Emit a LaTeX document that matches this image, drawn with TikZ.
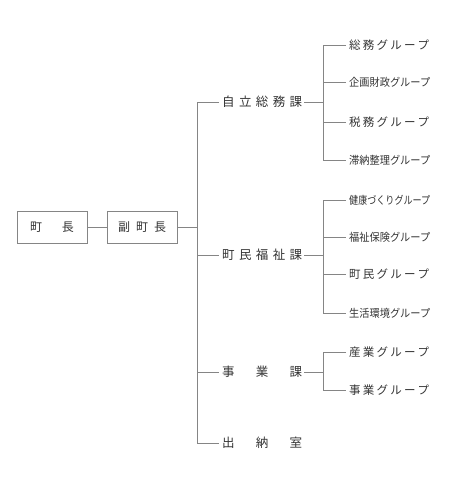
\documentclass[tikz,border=0pt]{standalone}
\usepackage{fontspec}
\usepackage{graphicx}
\setmainfont{Noto Sans CJK JP}
\ExplSyntaxOn
\bool_new:N \l_spread_bool
\NewDocumentCommand\spread{mm}{\hbox~to~#1{\bool_set_false:N \l_spread_bool \tl_map_inline:nn {#2}{\bool_if:NT \l_spread_bool {\hfill} \bool_set_true:N \l_spread_bool ##1}}}
\ExplSyntaxOff
\newcommand\squeezeto[2]{\resizebox{#1}{\height}{#2}}
\definecolor{ln}{HTML}{858585}
\definecolor{tx}{HTML}{333333}
\tikzset{
  ln/.style={draw=ln, line width=0.8pt},
  boxn/.style={draw=ln, line width=0.8pt, minimum width=70pt, minimum height=32pt, inner sep=0pt, text=tx, font=\fontsize{12}{12}\selectfont},
  dept/.style={anchor=west, inner sep=0pt, text=tx, font=\fontsize{12.5}{12.5}\selectfont},
  grp/.style={anchor=west, inner sep=0pt, text=tx, font=\fontsize{11.5}{11.5}\selectfont},
  grps/.style={anchor=west, inner sep=0pt, text=tx, font=\fontsize{11}{11}\selectfont},
}
\begin{document}
\begin{tikzpicture}[x=1pt,y=-1pt]
\useasboundingbox (0,0) rectangle (450,490);
\node[boxn] (cho) at (52,227) {\spread{44pt}{町長}};
\node[boxn] (fuku) at (142,227) {\spread{48pt}{副町長}};
\draw[ln] (cho.east) -- (fuku.east -| fuku.west);
\coordinate (tTop) at (197,102);
\coordinate (tBot) at (197,443);
\draw[ln] (fuku.east) -- (fuku.east -| tTop);
% departments
\node[dept] (d1) at (222,102) {\spread{80pt}{自立総務課}};
\node[dept] (d2) at (222,255) {\spread{80pt}{町民福祉課}};
\node[dept] (d3) at (222,372) {\spread{80pt}{事業課}};
\node[dept] (d4) at (222,443) {\spread{80pt}{出納室}};
\draw[ln] (d1.west) ++(-3,0) -| (tTop) -- (tBot) -- ([xshift=-3pt]d4.west);
\draw[ln] (d2.west -| tTop) -- ([xshift=-3pt]d2.west);
\draw[ln] (d3.west -| tTop) -- ([xshift=-3pt]d3.west);
% groups of d1
\node[grp] (g11) at (349,45) {\spread{80pt}{総務グループ}};
\node[grps] (g12) at (349,82) {\squeezeto{81pt}{企画財政グループ}};
\node[grp] (g13) at (349,122) {\spread{80pt}{税務グループ}};
\node[grps] (g14) at (349,160) {\squeezeto{81pt}{滞納整理グループ}};
\coordinate (s1) at (323,102);
\draw[ln] ([xshift=2pt]d1.east) -- (s1);
\draw[ln] ([xshift=-3pt]g11.west) -| (s1 |- g14.west) -- ([xshift=-3pt]g14.west);
\draw[ln] (s1 |- g12.west) -- ([xshift=-3pt]g12.west);
\draw[ln] (s1 |- g13.west) -- ([xshift=-3pt]g13.west);
% groups of d2
\node[grps] (g21) at (349,200) {\squeezeto{81pt}{健康づくりグループ}};
\node[grps] (g22) at (349,237) {\squeezeto{81pt}{福祉保険グループ}};
\node[grp] (g23) at (349,274) {\spread{80pt}{町民グループ}};
\node[grps] (g24) at (349,313) {\squeezeto{81pt}{生活環境グループ}};
\coordinate (s2) at (323,255);
\draw[ln] ([xshift=2pt]d2.east) -- (s2);
\draw[ln] ([xshift=-3pt]g21.west) -| (s2 |- g24.west) -- ([xshift=-3pt]g24.west);
\draw[ln] (s2 |- g22.west) -- ([xshift=-3pt]g22.west);
\draw[ln] (s2 |- g23.west) -- ([xshift=-3pt]g23.west);
% groups of d3
\node[grp] (g31) at (349,352) {\spread{80pt}{産業グループ}};
\node[grp] (g32) at (349,390) {\spread{80pt}{事業グループ}};
\coordinate (s3) at (323,372);
\draw[ln] ([xshift=2pt]d3.east) -- (s3);
\draw[ln] ([xshift=-3pt]g31.west) -| (s3 |- g32.west) -- ([xshift=-3pt]g32.west);
\end{tikzpicture}
\end{document}
